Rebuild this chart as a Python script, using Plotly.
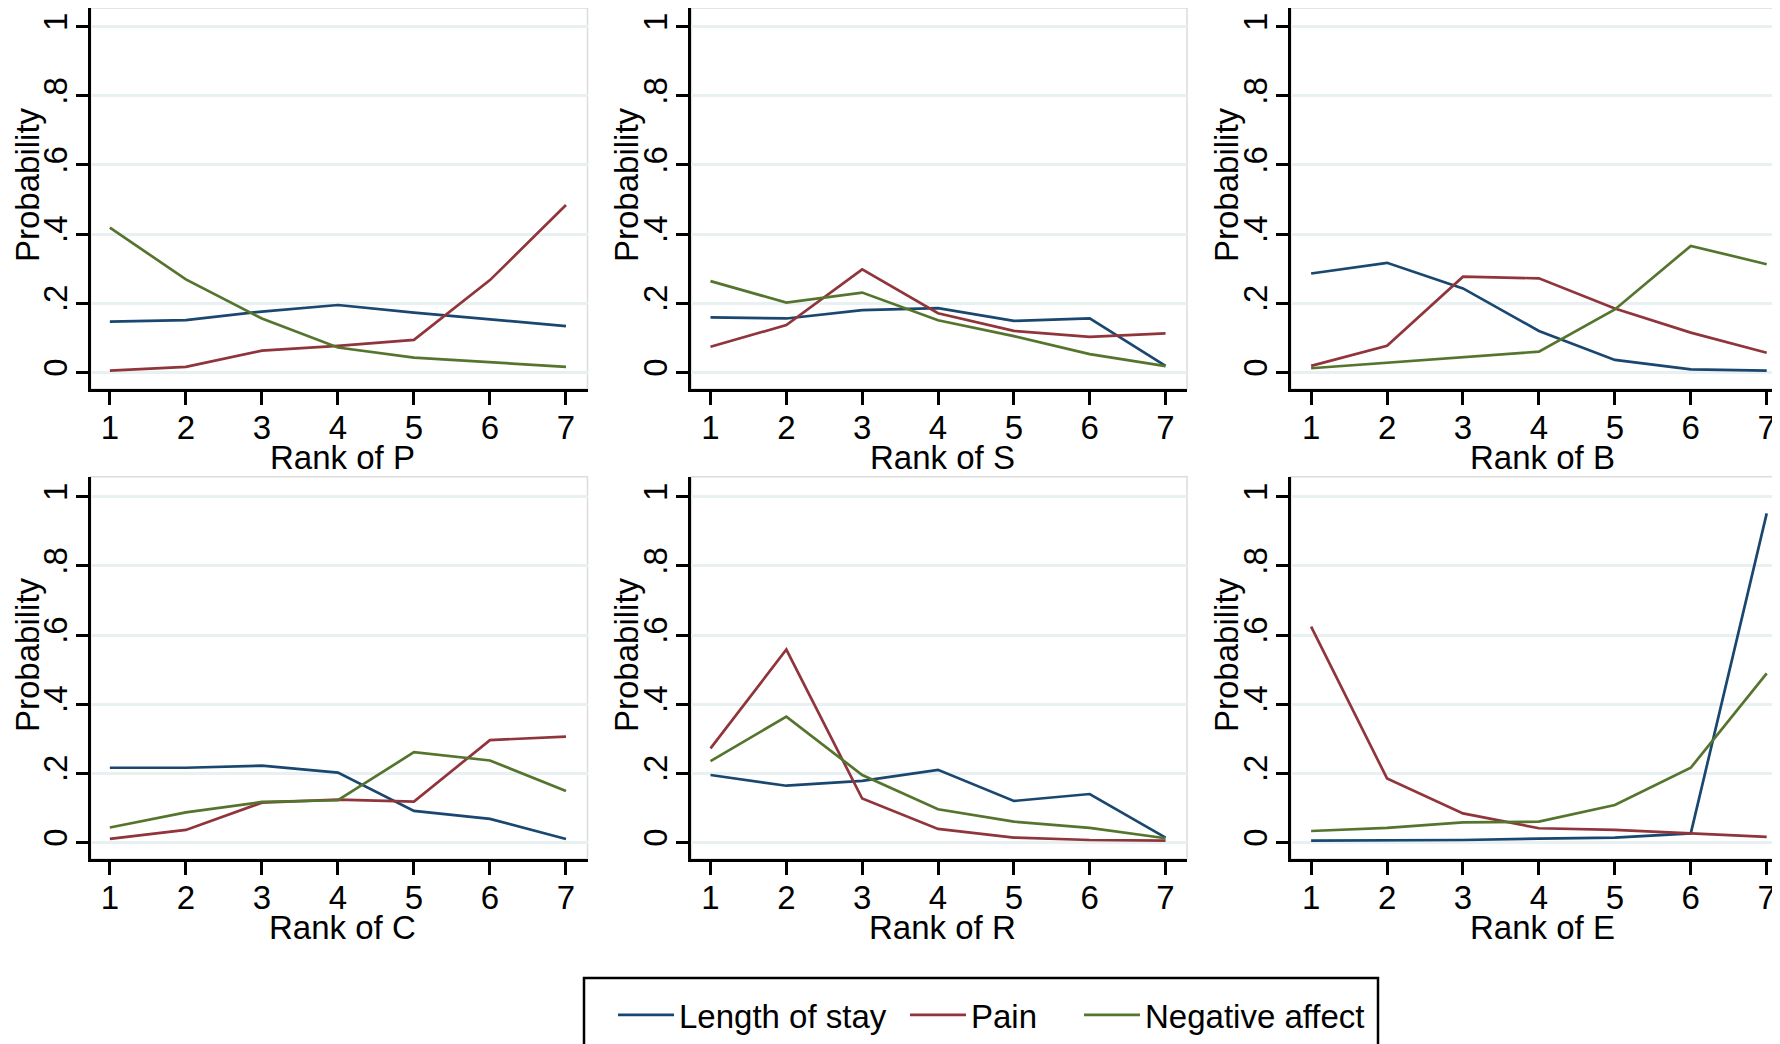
import plotly.graph_objects as go
from plotly.subplots import make_subplots

ranks = [1, 2, 3, 4, 5, 6, 7]
panel_letters = ["P", "S", "B", "C", "R", "E"]
series_names = ["Length of stay", "Pain", "Negative affect"]
series_colors = ["#1a476f", "#90353b", "#55752f"]
y_tickvals = [0, 0.2, 0.4, 0.6, 0.8, 1]
y_ticktext = ["0", ".2", ".4", ".6", ".8", "1"]

# Length of stay / Pain / Negative affect per panel
los_P = [0.147, 0.151, 0.176, 0.195, 0.173, 0.153, 0.134]
pain_P = [0.005, 0.016, 0.063, 0.077, 0.094, 0.267, 0.484]
neg_P = [0.419, 0.269, 0.156, 0.072, 0.043, 0.029, 0.016]

los_S = [0.159, 0.156, 0.180, 0.186, 0.149, 0.156, 0.019]
pain_S = [0.074, 0.137, 0.298, 0.171, 0.120, 0.103, 0.113]
neg_S = [0.264, 0.202, 0.231, 0.151, 0.105, 0.053, 0.018]

los_B = [0.286, 0.317, 0.243, 0.120, 0.036, 0.009, 0.005]
pain_B = [0.019, 0.077, 0.277, 0.272, 0.185, 0.115, 0.057]
neg_B = [0.012, 0.028, 0.042, 0.060, 0.182, 0.366, 0.313]

los_C = [0.216, 0.216, 0.222, 0.202, 0.091, 0.068, 0.010]
pain_C = [0.010, 0.036, 0.115, 0.124, 0.118, 0.296, 0.306]
neg_C = [0.043, 0.087, 0.117, 0.122, 0.261, 0.237, 0.149]

los_R = [0.195, 0.164, 0.178, 0.210, 0.120, 0.140, 0.014]
pain_R = [0.272, 0.558, 0.127, 0.039, 0.014, 0.007, 0.005]
neg_R = [0.235, 0.364, 0.195, 0.096, 0.060, 0.042, 0.012]

los_E = [0.005, 0.005, 0.007, 0.011, 0.014, 0.026, 0.952]
pain_E = [0.624, 0.185, 0.084, 0.041, 0.036, 0.026, 0.016]
neg_E = [0.033, 0.042, 0.058, 0.060, 0.108, 0.216, 0.489]

panel_data = [
    [los_P, pain_P, neg_P],
    [los_S, pain_S, neg_S],
    [los_B, pain_B, neg_B],
    [los_C, pain_C, neg_C],
    [los_R, pain_R, neg_R],
    [los_E, pain_E, neg_E],
]

# The page body has an 8px margin; lay out in page pixels and convert.
OFF = 8
W, H = 1772, 1036
FONT = "Liberation Sans, Arial, sans-serif"


def px_x(p):
    return min(1.0, max(0.0, (p - OFF) / W))


def px_y(p):
    return min(1.0, 1 - (p - OFF) / H)


legend_ids = ["legend", "legend2", "legend3"]

fig = make_subplots(rows=2, cols=3)

for i, series in enumerate(panel_data):
    r, c = i // 3 + 1, i % 3 + 1
    for j, vals in enumerate(series):
        fig.add_trace(
            go.Scatter(
                x=ranks, y=vals, mode="lines", name=series_names[j],
                line=dict(color=series_colors[j], width=2.7),
                showlegend=(i == 0), legendgroup=series_names[j],
                legend=legend_ids[j],
            ),
            row=r, col=c,
        )

# pixel geometry (page coordinates)
col_px = [(90.7, 587.5), (691.4, 1187.0), (1291.0, 1780.0)]
row_px = [(8.0, 389.0), (476.7, 859.0)]
x_ranges = [[0.748, 7.283], [0.748, 7.283], [0.735, 7.175]]
y_ranges = [[-0.048, 1.054], [-0.048, 1.058]]
TS = 33

shapes = []
annotations = []
for i in range(6):
    r, c = i // 3, i % 3
    ax = "" if i == 0 else str(i + 1)
    x0, x1 = col_px[c]
    yt, yb = row_px[r]
    fig.layout["xaxis" + ax].update(
        domain=[px_x(x0), px_x(x1)], range=x_ranges[c],
        tickvals=ranks, ticktext=[str(v) for v in ranks],
        showgrid=False, zeroline=False,
        showline=True, linecolor="black", linewidth=3,
        ticks="outside", ticklen=13, tickwidth=2.5, tickcolor="black",
        tickfont=dict(family=FONT, size=TS, color="black"),
        ticklabelstandoff=-6,
    )
    fig.layout["yaxis" + ax].update(
        domain=[px_y(yb), px_y(yt)], range=y_ranges[r],
        tickvals=y_tickvals, ticktext=y_ticktext, tickangle=-90,
        showgrid=True, gridcolor="#e8f0f2", gridwidth=2.5, zeroline=False,
        showline=True, linecolor="black", linewidth=3,
        ticks="outside", ticklen=12, tickwidth=2.5, tickcolor="black",
        tickfont=dict(family=FONT, size=TS, color="black"),
        ticklabelstandoff=-4,
    )
    shapes.append(dict(type="rect", xref="x" + ax + " domain", yref="y" + ax + " domain",
                       x0=0, x1=1, y0=0, y1=1, line=dict(color="#dcdcdc", width=1.5),
                       layer="below"))
    # y-axis title
    title_x = [27.0, 626.0, 1226.0][c]
    title_y = [185.0, 655.0][r]
    annotations.append(dict(text="Probability", textangle=-90, showarrow=False,
                            xref="paper", yref="paper", x=px_x(title_x), y=px_y(title_y),
                            xanchor="center", yanchor="middle",
                            font=dict(family=FONT, size=TS, color="black")))
    # x-axis title
    xt_x = (x0 + (1788.0 if c == 2 else x1)) / 2 + 3
    xt_y = [457.5, 927.5][r]
    annotations.append(dict(text="Rank of " + panel_letters[i], showarrow=False,
                            xref="paper", yref="paper", x=px_x(xt_x), y=px_y(xt_y),
                            xanchor="center", yanchor="middle",
                            font=dict(family=FONT, size=TS, color="black")))

# legend frame
shapes.append(dict(type="rect", xref="paper", yref="paper",
                   x0=px_x(584), x1=px_x(1378), y0=-0.05, y1=px_y(978),
                   line=dict(color="black", width=2.5), fillcolor="rgba(0,0,0,0)"))

leg_common = dict(orientation="h", xanchor="left", yanchor="middle",
                  font=dict(family=FONT, size=33, color="black"),
                  bgcolor="rgba(0,0,0,0)", borderwidth=0, itemwidth=56,
                  y=px_y(1015))

fig.update_layout(
    width=W, height=H,
    margin=dict(l=0, r=0, t=0, b=0),
    paper_bgcolor="white", plot_bgcolor="white",
    font=dict(family=FONT, size=TS, color="black"),
    shapes=shapes, annotations=annotations,
    legend=dict(leg_common, x=px_x(613)),
    legend2=dict(leg_common, x=px_x(905)),
    legend3=dict(leg_common, x=px_x(1079)),
)

fig.write_html("out.html")
